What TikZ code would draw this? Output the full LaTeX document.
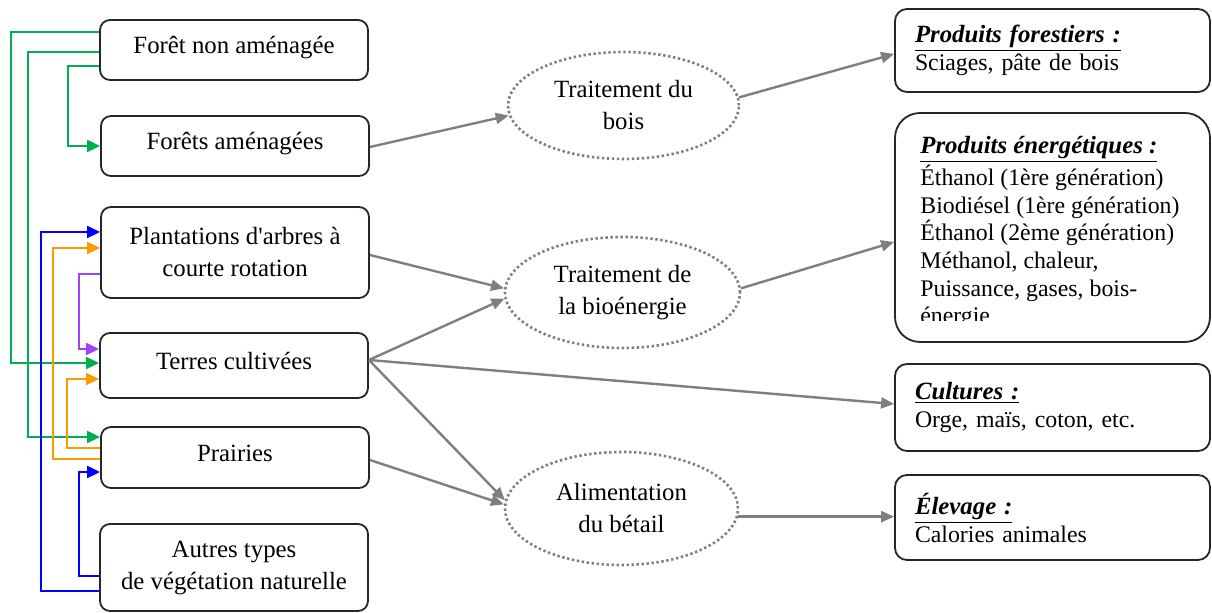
\documentclass[tikz,border=0pt]{standalone}
\usepackage{fontspec}
\setmainfont{Liberation Serif}[Ligatures=TeXOff]
\usetikzlibrary{shapes.geometric,arrows.meta}
\definecolor{bord}{HTML}{262626}
\definecolor{grayc}{HTML}{7F7F7F}
\definecolor{grn}{HTML}{00B050}
\definecolor{blu}{HTML}{0000FF}
\definecolor{org}{HTML}{FF9900}
\definecolor{prp}{HTML}{A040FF}
\newcommand{\hd}[1]{{\fontsize{12.4}{14}\selectfont\underline{\textbf{\textit{#1}}}}}
\begin{document}
\begin{tikzpicture}[x=0.5pt,y=-0.5pt,
  lbox/.style={draw=bord, line width=0.9pt, rounded corners=5pt, minimum width=134pt,
    align=center, inner sep=0pt, font=\fontsize{12.4}{16}\selectfont},
  oneline/.style={text height=9pt, text depth=5.3pt},
  rbox/.style={draw=bord, line width=0.9pt, rounded corners=6pt, minimum width=157.5pt,
    align=left, text width=137.5pt, inner xsep=10pt, inner ysep=0pt,
    font=\fontsize{11.9}{14}\selectfont},
  ell/.style={ellipse, draw=grayc, line width=1.3pt, dash pattern=on 1.2pt off 1.3pt,
    inner sep=0pt, align=center, font=\fontsize{12.4}{16}\selectfont},
  garr/.style={draw=grayc, line width=1.2pt, -{Triangle[length=6.5pt,width=5.5pt]}},
  carr/.style={line width=1pt, -{Triangle[length=6.5pt,width=6pt]}}
]
\useasboundingbox[fill=white] (0,0) rectangle (1212,613);

% left boxes
\node[lbox, oneline, minimum height=30pt] (L1) at (234,50) {Forêt non aménagée};
\node[lbox, oneline, minimum height=30pt] (L2) at (235,146) {Forêts aménagées};
\node[lbox, minimum height=45.5pt] (L3) at (235,252.5) {Plantations d'arbres à\\courte rotation};
\node[lbox, oneline, minimum height=32.5pt] (L4) at (234,365.5) {Terres cultivées};
\node[lbox, oneline, minimum height=30.5pt] (L5) at (235,457.5) {Prairies};
\node[lbox, minimum height=43.5pt] (L6) at (234,567.5) {Autres types\\de végétation naturelle};

% ellipses
\node[ell, minimum width=115.5pt, minimum height=53.5pt] (E1) at (623.5,105.5) {Traitement du\\bois};
\node[ell, minimum width=117.5pt, minimum height=55.5pt] (E2) at (622.5,292.5) {Traitement de\\la bioénergie};
\node[ell, minimum width=116.5pt, minimum height=56.5pt] (E3) at (621.5,508.5) {Alimentation\\du bétail};

% right boxes
\node[rbox, minimum height=41.5pt] (R1) at (1052.5,50.5) {\hd{Produits forestiers :}\\Sciages, pâte de bois};
\node[draw=bord, line width=0.9pt, rounded corners=12.5pt, minimum width=157.5pt,
  minimum height=114.5pt, inner sep=0pt] (R2) at (1052.5,227.5) {};
\begin{scope}
\clip (880,100) rectangle (1212,321);
\node[anchor=north west, inner sep=0pt, align=left, font=\fontsize{11.9}{13.85}\selectfont]
  (R2t) at (920,136) {\hd{Produits énergétiques :}\\Éthanol (1ère génération)\\Biodiésel (1ère génération)\\Éthanol (2ème génération)\\Méthanol, chaleur,\\Puissance, gases, bois-\\énergie};
\end{scope}
\node[rbox, minimum height=43.5pt] (R3) at (1052.5,407.5) {\hd{Cultures :}\\Orge, maïs, coton, etc.};
\node[rbox, minimum height=42.5pt] (R4) at (1052.5,517.5) {\hd{Élevage :}\\Calories animales\\[-4pt]};

% gray connectors
\draw[garr] (L2.east |- 0,147) -- (E1.185);
\draw[garr] (E1.4) -- (R1.west |- 0,54);
\draw[garr] (L3.east |- 0,255) -- (E2.178);
\draw[garr] (L4.east |- 0,360) -- (E2.183);
\draw[garr] (E2.2) -- (R2.west |- 0,242);
\draw[garr] (L4.east |- 0,360) -- (R3.west |- 0,404);
\draw[garr] (L4.east |- 0,360) -- (E3.176);
\draw[garr] (L5.east |- 0,460) -- (E3.178);
\draw[garr] (E3.356) -- (E3.356 -| R4.west);

% colored connectors
\draw[carr, grn] (L1.west |- 0,32) -- (11,32) |- (L4.west |- 0,363);
\draw[carr, grn] (L1.west |- 0,52) -- (28,52) |- (L5.west |- 0,437);
\draw[carr, grn] (L1.west |- 0,66) -- (68,66) |- (L2.west |- 0,146);
\draw[carr, blu] (L6.west |- 0,591) -- (41,591) |- (L3.west |- 0,232);
\draw[carr, blu] (L6.west |- 0,576) -- (79,576) |- (L5.west |- 0,472);
\draw[carr, org] (L5.west |- 0,459) -- (53,459) |- (L3.west |- 0,248);
\draw[carr, org] (L5.west |- 0,448) -- (67,448) |- (L4.west |- 0,379);
\draw[carr, prp] (L3.west |- 0,274) -- (79,274) |- (L4.west |- 0,349);
\end{tikzpicture}
\end{document}
